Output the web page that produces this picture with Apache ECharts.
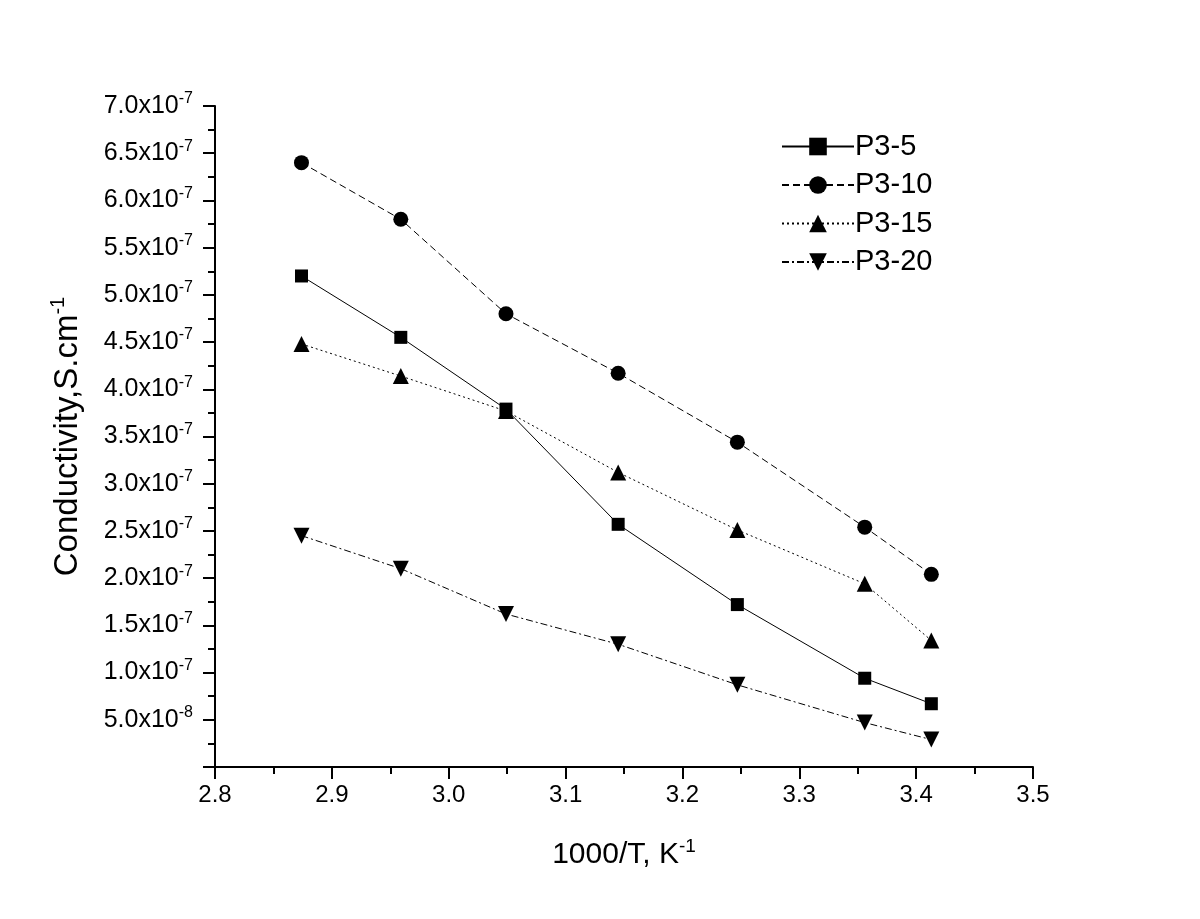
<!DOCTYPE html>
<html>
<head>
  <meta charset="UTF-8">
  <title>Conductivity vs 1000/T</title>
  <style>
    html, body { margin: 0; padding: 0; background: #fff; }
    #main { width: 1200px; height: 919px; }
  </style>
</head>
<body>
  <div id="main"></div>
  <script src="https://cdn.jsdelivr.net/npm/echarts@6/dist/echarts.min.js"></script>
  <script>
    // 1000/T values (K^-1)
    var invT = [2.874, 2.959, 3.049, 3.145, 3.247, 3.356, 3.413];

    // conductivity, S/cm
    var p3_5  = [5.20e-7, 4.55e-7, 3.79e-7, 2.57e-7, 1.72e-7, 0.94e-7, 0.67e-7];
    var p3_10 = [6.40e-7, 5.80e-7, 4.80e-7, 4.17e-7, 3.44e-7, 2.54e-7, 2.04e-7];
    var p3_15 = [4.48e-7, 4.14e-7, 3.77e-7, 3.12e-7, 2.51e-7, 1.94e-7, 1.34e-7];
    var p3_20 = [2.45e-7, 2.10e-7, 1.62e-7, 1.30e-7, 0.87e-7, 0.47e-7, 0.29e-7];

    var seriesNames = ['P3-5', 'P3-10', 'P3-15', 'P3-20'];

    function pairs(ys) {
      return invT.map(function (x, i) { return [x, ys[i]]; });
    }

    function sciLabel(v) {
      if (v === 0) return '0';
      var e = Math.floor(Math.log10(v) + 1e-9);
      var m = (v / Math.pow(10, e)).toFixed(1);
      return '{m|' + m + 'x10}{e|' + e + '}';
    }

    var font = '"Liberation Sans", Arial, sans-serif';

    function lineSeries(name, data, symbol, size, dash) {
      return {
        name: name,
        type: 'line',
        data: pairs(data),
        symbol: symbol,
        symbolSize: size,
        itemStyle: { color: '#000' },
        lineStyle: { color: '#000', width: 1, type: dash },
        emphasis: { disabled: true },
        animation: false
      };
    }

    var chart = echarts.init(document.getElementById('main'));
    chart.setOption({
      backgroundColor: '#fff',
      animation: false,
      grid: { left: 215, right: 167, top: 106, bottom: 152 },
      legend: {
        orient: 'vertical',
        left: 776,
        top: 127,
        itemWidth: 72,
        itemHeight: 22,
        itemGap: 9.5,
        data: seriesNames,
        textStyle: { fontFamily: font, fontSize: 29, color: '#000', padding: [0, 0, 0, -4] }
      },
      xAxis: {
        type: 'value',
        min: 2.8,
        max: 3.5,
        interval: 0.1,
        name: '{a|1000/T, K}{b|-1}',
        nameLocation: 'middle',
        nameGap: 70,
        nameTextStyle: {
          rich: {
            a: { fontFamily: font, fontSize: 30, color: '#000', lineHeight: 36 },
            b: { fontFamily: font, fontSize: 19, color: '#000', verticalAlign: 'top' }
          }
        },
        axisLine: { lineStyle: { color: '#000', width: 2 } },
        axisTick: { show: true, inside: false, length: 12, lineStyle: { width: 2 } },
        minorTick: { show: true, splitNumber: 2, length: 7, lineStyle: { color: '#000', width: 2 } },
        axisLabel: {
          fontFamily: font, fontSize: 24, color: '#000', margin: 16,
          formatter: function (v) { return v.toFixed(1); }
        },
        splitLine: { show: false }
      },
      yAxis: {
        type: 'value',
        min: 0,
        max: 7e-7,
        interval: 0.5e-7,
        name: '{a|Conductivity,S.cm}{b|-1}',
        nameLocation: 'middle',
        nameGap: 128,
        nameRotate: 90,
        nameTextStyle: {
          rich: {
            a: { fontFamily: font, fontSize: 33, color: '#000', lineHeight: 39 },
            b: { fontFamily: font, fontSize: 20, color: '#000', verticalAlign: 'top' }
          }
        },
        axisLine: { show: true, lineStyle: { color: '#000', width: 2 } },
        axisTick: { show: true, inside: false, length: 12, lineStyle: { width: 2 } },
        minorTick: { show: true, splitNumber: 2, length: 7, lineStyle: { color: '#000', width: 2 } },
        axisLabel: {
          showMinLabel: false,
          margin: 22,
          formatter: sciLabel,
          rich: {
            m: { fontFamily: font, fontSize: 25, color: '#000', lineHeight: 30 },
            e: { fontFamily: font, fontSize: 16, color: '#000', verticalAlign: 'top' }
          }
        },
        splitLine: { show: false }
      },
      series: [
        lineSeries('P3-5', p3_5, 'rect', 13, 'solid'),
        lineSeries('P3-10', p3_10, 'circle', 15, [7, 4]),
        lineSeries('P3-15', p3_15, 'triangle', 16, [2, 3]),
        lineSeries('P3-20', p3_20, 'path://M0,0 L10,0 L5,9 Z', 16, [7, 3, 2, 3])
      ]
    });
  </script>
</body>
</html>
